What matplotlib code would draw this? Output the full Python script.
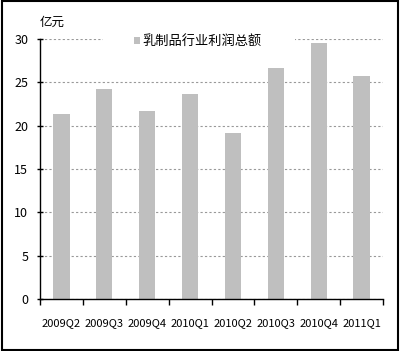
import matplotlib
matplotlib.use("Agg")
import matplotlib.pyplot as plt
from matplotlib.patches import Rectangle
import numpy as np

plt.rcParams['font.family'] = ['Noto Sans CJK SC', 'DejaVu Sans']

# 数据
quarters = ['2009Q2', '2009Q3', '2009Q4', '2010Q1', '2010Q2', '2010Q3', '2010Q4', '2011Q1']
profit = [21.4, 24.2, 21.7, 23.7, 19.2, 26.6, 29.5, 25.7]
series_name = '乳制品行业利润总额'

fig = plt.figure(figsize=(4.0, 3.51), dpi=100)
ax = fig.add_axes([0.1, 0.148, 0.8575, 0.741])
ax.set_axisbelow(True)

x = np.arange(len(quarters))
ax.bar(x, profit, width=0.38, color='#bfbfbf', label=series_name, zorder=2)

ax.set_xlim(-0.5, len(quarters) - 0.5)
ax.set_ylim(0, 30)
ax.set_yticks(np.arange(0, 31, 5))
ax.yaxis.grid(True, linestyle=(0, (2, 2)), color='#999999', linewidth=0.8)

# x 轴刻度在类别之间
ax.set_xticks(np.arange(len(quarters) + 1) - 0.5)
ax.set_xticklabels([])
ax.set_xticks(x, minor=True)
ax.set_xticklabels(quarters, minor=True, fontsize=8)
ax.tick_params(axis='x', which='major', direction='out', length=4, width=1)
ax.tick_params(axis='x', which='minor', length=0, pad=14)
ax.tick_params(axis='y', direction='inout', length=5, width=1, labelsize=9, pad=6)

for s in ['top', 'right']:
    ax.spines[s].set_visible(False)
ax.spines['left'].set_linewidth(1)
ax.spines['bottom'].set_linewidth(1)

ax.text(0.0, 1.04, '亿元', transform=ax.transAxes, fontsize=9, ha='left', va='bottom')

# 图例背后的白色区域，遮住网格线
ax.add_patch(Rectangle((0.184, 0.975), 0.56, 0.05, transform=ax.transAxes,
                       facecolor='white', edgecolor='none', zorder=3, clip_on=False))
leg = ax.legend(loc='center', bbox_to_anchor=(0.46, 0.99), frameon=False,
                fontsize=9.5, handlelength=0.5, handleheight=0.5, handletextpad=0.2,
                borderpad=0.2)
leg.set_zorder(4)

# 外框
fig.patches.append(Rectangle((0.004, 0.004), 0.992, 0.992, transform=fig.transFigure,
                             fill=False, edgecolor='black', linewidth=1.5))

fig.savefig('out.png', dpi=100)
